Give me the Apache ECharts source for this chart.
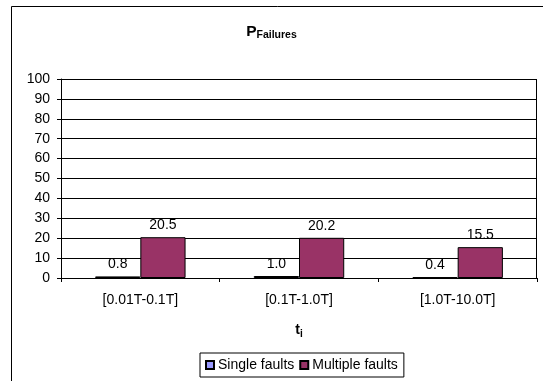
<!DOCTYPE html>
<html>
<head>
<meta charset="utf-8">
<script src="https://cdn.jsdelivr.net/npm/echarts@6/dist/echarts.min.js"></script>
<style>
  html, body { margin: 0; padding: 0; background: #fff; }
  #chart { width: 543px; height: 381px; }
</style>
</head>
<body>
<div id="chart"></div>
<script>
// Time windows on the x axis
var categories = ['[0.01T-0.1T]', '[0.1T-1.0T]', '[1.0T-10.0T]'];
// Failure percentages per fault type
var singleFaults = [0.8, 1.0, 0.4];
var multipleFaults = [20.5, 20.2, 15.5];
// Value axis ticks
var yTicks = [0, 10, 20, 30, 40, 50, 60, 70, 80, 90, 100];

var chart = echarts.init(document.getElementById('chart'));
var font = 'Liberation Sans, Arial, sans-serif';

var labelCfg = {
  show: true,
  position: 'top',
  distance: 5,
  color: '#000',
  fontFamily: font,
  fontSize: 14,
  formatter: function (p) { return p.value.toFixed(1); }
};

chart.setOption({
  animation: false,
  backgroundColor: '#fff',
  title: {
    text: '{p|P}{s|Failures}',
    left: 'center',
    top: 19,
    textStyle: {
      rich: {
        p: { fontFamily: font, fontSize: 15.5, fontWeight: 'bold', color: '#000', verticalAlign: 'bottom' },
        s: { fontFamily: font, fontSize: 10.5, fontWeight: 'bold', color: '#000', verticalAlign: 'bottom', padding: [0, 0, -1, 0] }
      }
    }
  },
  grid: { left: 61, right: 6, top: 79, bottom: 103 },
  legend: {
    left: 200,
    top: 353,
    itemWidth: 8,
    itemHeight: 8,
    itemGap: 5,
    padding: [5, 6, 5, 5],
    borderColor: '#000',
    borderWidth: 1,
    icon: 'rect',
    textStyle: { fontFamily: font, fontSize: 14, color: '#000', padding: [0, 0, 0, -1] },
    data: ['Single faults', 'Multiple faults']
  },
  xAxis: {
    type: 'category',
    data: categories,
    name: '{t|t}{i|i}',
    nameLocation: 'middle',
    nameGap: 45,
    nameTextStyle: {
      rich: {
        t: { fontFamily: font, fontSize: 14, fontWeight: 'bold', color: '#000', verticalAlign: 'bottom' },
        i: { fontFamily: font, fontSize: 10, fontWeight: 'bold', color: '#000', verticalAlign: 'bottom', padding: [0, 0, -2, 0] }
      }
    },
    axisLine: { lineStyle: { color: '#000', width: 1 } },
    axisTick: { show: true, alignWithLabel: false, length: 4, lineStyle: { color: '#000' } },
    axisLabel: { fontFamily: font, fontSize: 14, color: '#000', margin: 15 },
    splitLine: { show: false }
  },
  yAxis: {
    type: 'value',
    min: 0,
    max: 100,
    interval: 10,
    axisLine: { show: true, lineStyle: { color: '#000', width: 1 } },
    axisTick: { show: true, length: 4, lineStyle: { color: '#000' } },
    axisLabel: {
      fontFamily: font, fontSize: 14, color: '#000', margin: 11,
      formatter: function (v) { return yTicks.indexOf(v) >= 0 ? String(v) : ''; }
    },
    splitLine: { show: true, lineStyle: { color: '#000', width: 1 } }
  },
  series: [
    {
      name: 'Single faults',
      type: 'bar',
      data: singleFaults,
      barGap: '0%',
      barCategoryGap: '43%',
      itemStyle: { color: '#9999FF', borderColor: '#000', borderWidth: 1 },
      label: labelCfg
    },
    {
      name: 'Multiple faults',
      type: 'bar',
      data: multipleFaults,
      barGap: '0%',
      barCategoryGap: '43%',
      itemStyle: { color: '#993366', borderColor: '#000', borderWidth: 1 },
      label: labelCfg
    }
  ],
  graphic: [
    {
      // chart-area frame, running off the right and bottom edges
      type: 'rect',
      shape: { x: 11.5, y: 6.5, width: 560, height: 400 },
      style: { fill: 'none', stroke: '#000', lineWidth: 1 },
      silent: true,
      z: -1
    },
    {
      // plot-area frame
      type: 'rect',
      shape: { x: 61.5, y: 79.5, width: 475, height: 199 },
      style: { fill: 'none', stroke: '#000', lineWidth: 1 },
      silent: true,
      z: 5
    }
  ]
});
</script>
</body>
</html>
